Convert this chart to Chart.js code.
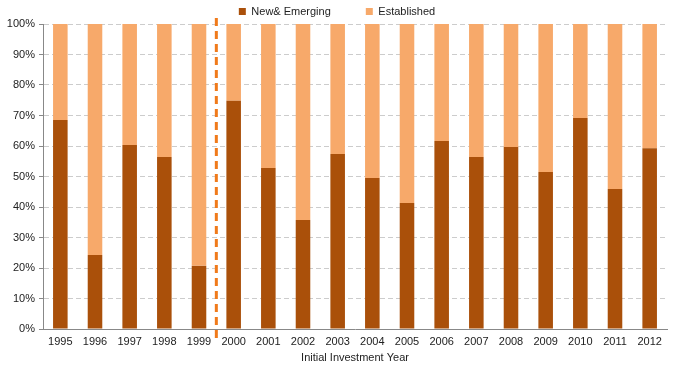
<!DOCTYPE html>
<html><head><meta charset="utf-8">
<script src="https://cdn.jsdelivr.net/npm/chart.js@4/dist/chart.umd.min.js"></script>
<style>html,body{margin:0;padding:0;background:#fff}#wrap{width:687px;height:370px}</style>
</head><body><div id="wrap"><canvas id="c"></canvas></div>
<script>
const years = ['1995','1996','1997','1998','1999','2000','2001','2002','2003','2004','2005','2006','2007','2008','2009','2010','2011','2012'];
const newEmerging = [68.5,24.3,60.3,56.4,20.7,74.8,52.8,35.7,57.4,49.5,41.3,61.6,56.4,59.7,51.5,69.2,45.9,59.3];
const established = newEmerging.map(v => 100 - v);
const yTicks = [0,10,20,30,40,50,60,70,80,90,100];
const dividerAfter = 4; // dashed line between 1999 and 2000

const FONT = 'Liberation Sans, Arial, sans-serif';
const divider = {
  id: 'divider',
  afterDatasetsDraw(chart) {
    const x = chart.scales.x;
    const px = (x.getPixelForValue(dividerAfter) + x.getPixelForValue(dividerAfter + 1)) / 2;
    const ctx = chart.ctx;
    ctx.save();
    ctx.strokeStyle = '#F07A1A';
    ctx.lineWidth = 3;
    ctx.setLineDash([8, 5]);
    ctx.beginPath();
    ctx.moveTo(px, chart.chartArea.top - 6);
    ctx.lineTo(px, chart.chartArea.bottom + 14);
    ctx.stroke();
    ctx.restore();
  }
};

new Chart(document.getElementById('c'), {
  type: 'bar',
  data: {
    labels: years,
    datasets: [
      {label: 'New& Emerging', data: newEmerging, backgroundColor: '#AA500A', barPercentage: 0.42, categoryPercentage: 1},
      {label: 'Established', data: established, backgroundColor: '#F7A96A', barPercentage: 0.42, categoryPercentage: 1}
    ]
  },
  options: {
    responsive: true, maintainAspectRatio: false, animation: false,
    layout: {padding: {left: 7, right: 20, top: -29, bottom: 0}},
    plugins: {
      tooltip: {enabled: false},
      legend: {
        position: 'top',
        maxHeight: 53,
        labels: {boxWidth: 7, boxHeight: 7, padding: 35, font: {family: FONT, size: 11}, color: '#222'},
        onClick: null
      }
    },
    scales: {
      x: {
        stacked: true,
        grid: {display: false, drawTicks: false},
        border: {color: '#888', width: 1},
        ticks: {font: {family: FONT, size: 11}, color: '#222', padding: 6, maxRotation: 0, autoSkip: false},
        title: {display: true, text: 'Initial Investment Year', font: {family: FONT, size: 11}, color: '#222', padding: {top: 1, bottom: 5}},
        afterFit(s) { s.height = 41; }
      },
      y: {
        stacked: true, min: 0, max: 100,
        afterBuildTicks(s) { s.ticks = yTicks.map(v => ({value: v})); },
        grid: {color: '#cccccc', tickLength: 4, tickColor: '#888'},
        border: {color: '#888', width: 1, dash: [5, 3]},
        ticks: {font: {family: FONT, size: 11}, color: '#222', padding: 4, callback: v => v + '%'},
        afterFit(s) { s.width = 36; }
      }
    }
  },
  plugins: [divider]
});
</script></body></html>
